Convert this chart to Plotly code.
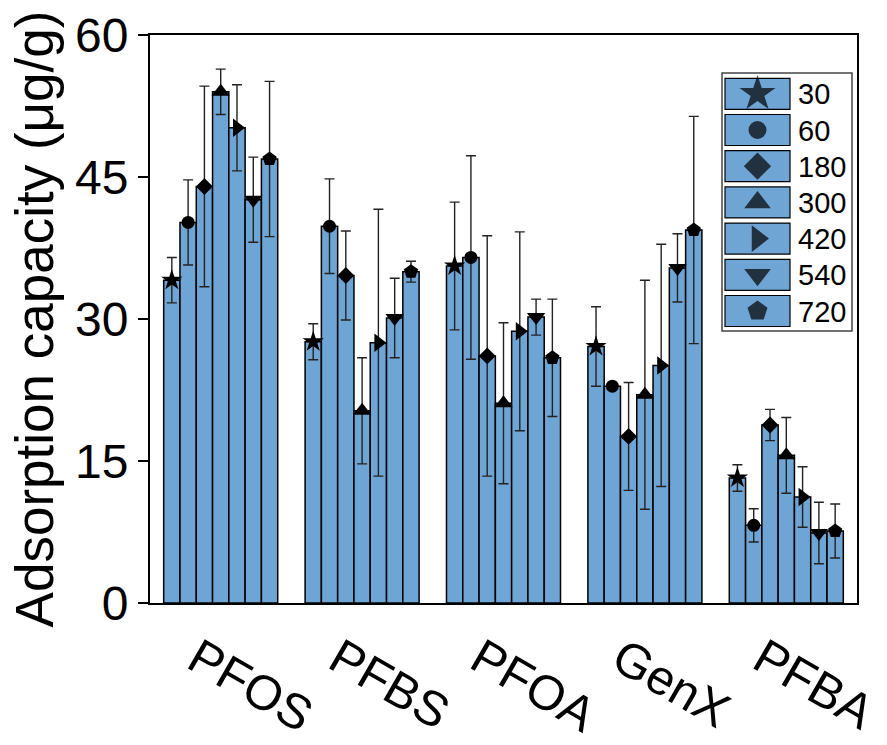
import plotly.graph_objects as go

categories = ["PFOS", "PFBS", "PFOA", "GenX", "PFBA"]
times = ["30", "60", "180", "300", "420", "540", "720"]

s30 = [34.1, 27.6, 35.6, 27.1, 13.2]
s60 = [40.2, 39.8, 36.5, 22.9, 8.2]
s180 = [44.0, 34.6, 26.1, 17.6, 18.8]
s300 = [54.0, 20.3, 21.1, 22.0, 15.6]
s420 = [50.2, 27.5, 28.7, 25.1, 11.2]
s540 = [42.6, 30.1, 30.2, 35.4, 7.4]
s720 = [46.9, 35.0, 25.9, 39.4, 7.6]

e30 = [2.4, 1.9, 6.75, 4.2, 1.4]
e60 = [4.5, 5.0, 10.75, 0.3, 1.75]
e180 = [10.6, 4.7, 12.7, 5.7, 1.65]
e300 = [2.4, 5.6, 8.5, 12.1, 4.0]
e420 = [4.55, 14.1, 10.5, 12.8, 3.2]
e540 = [4.5, 4.2, 1.9, 3.6, 3.25]
e720 = [8.2, 1.1, 6.2, 12.0, 2.85]

yticks = [0, 15, 30, 45, 60]

series = [s30, s60, s180, s300, s420, s540, s720]
errors = [e30, e60, e180, e300, e420, e540, e720]
symbols = ["star", "circle", "diamond", "triangle-up", "triangle-right", "triangle-down", "pentagon"]
msizes = [16, 13, 13, 16, 16, 16, 15]
lsizes = [27, 18, 21, 23, 23, 23, 21]

BAR = "#6fa5d4"
FONT = "Liberation Sans, Arial, sans-serif"
W = 0.1152
n = len(series)

fig = go.Figure()
for j, (vals, errs) in enumerate(zip(series, errors)):
    xs = [i + (j - (n - 1) / 2) * W for i in range(len(categories))]
    fig.add_trace(go.Bar(
        x=xs, y=vals, width=W, marker=dict(color=BAR, line=dict(color="black", width=1.5)),
        error_y=dict(type="data", array=errs, visible=True, color="#222222", thickness=1.4, width=5),
        showlegend=False,
    ))
for j, vals in enumerate(series):
    xs = [i + (j - (n - 1) / 2) * W for i in range(len(categories))]
    fig.add_trace(go.Scatter(
        x=xs, y=vals, mode="markers",
        marker=dict(symbol=symbols[j], size=msizes[j], color="black", line=dict(width=0)),
        showlegend=False,
    ))

# custom legend (paper coordinates)
L, R, T, B = 150, 857, 35, 603
px = lambda v: (v - L) / (R - L)
py = lambda v: (B - v) / (B - T)

shapes = [dict(type="rect", xref="paper", yref="paper", x0=px(722), x1=px(852), y0=py(331), y1=py(73),
               line=dict(color="#444444", width=1.5), fillcolor="white", layer="below")]
annotations = []
leg_x, leg_y = [], []
for k, t in enumerate(times):
    top = 78.3 + 36.2 * k
    shapes.append(dict(type="rect", xref="paper", yref="paper", x0=px(725), x1=px(790),
                       y0=py(top + 31), y1=py(top), line=dict(color="black", width=1.2),
                       fillcolor=BAR, layer="below"))
    annotations.append(dict(xref="paper", yref="paper", x=px(796), y=py(top + 16), text=t,
                            showarrow=False, xanchor="left", yanchor="middle",
                            font=dict(family=FONT, size=29, color="black")))
    leg_x.append(px(757.5))
    leg_y.append(py(top + 15.5))

fig.add_trace(go.Scatter(
    x=leg_x, y=leg_y, xaxis="x2", yaxis="y2", mode="markers",
    marker=dict(symbol=symbols, size=lsizes, color="black", line=dict(width=0)),
    showlegend=False,
))

fig.update_layout(
    width=887, height=745,
    margin=dict(l=L, r=887 - R, t=T, b=745 - B, autoexpand=False),
    plot_bgcolor="white", paper_bgcolor="white",
    barmode="overlay", showlegend=False,
    shapes=shapes, annotations=annotations,
    font=dict(family=FONT, color="black"),
    xaxis=dict(range=[-0.5, 4.5], tickvals=list(range(len(categories))), ticktext=categories,
               tickangle=30, ticks="", showline=True, linecolor="black", linewidth=2, mirror=True,
               showgrid=False, zeroline=False, tickfont=dict(size=49, family=FONT),
               ticklabelshift=-24, ticklabelstandoff=6, automargin=False,
               ticklabeloverflow="allow"),
    yaxis=dict(range=[0, 60], tickvals=yticks, ticks="outside", ticklen=10, tickwidth=2,
               tickcolor="black", showline=True, linecolor="black", linewidth=2, mirror=True,
               showgrid=False, zeroline=False, tickfont=dict(size=48, family=FONT), automargin=False,
               title=dict(text="Adsorption capacity (μg/g)", font=dict(size=53, family=FONT), standoff=4)),
    xaxis2=dict(overlaying="x", range=[0, 1], visible=False, domain=[0, 1]),
    yaxis2=dict(overlaying="y", range=[0, 1], visible=False, domain=[0, 1]),
)

fig.write_html("out.html")
